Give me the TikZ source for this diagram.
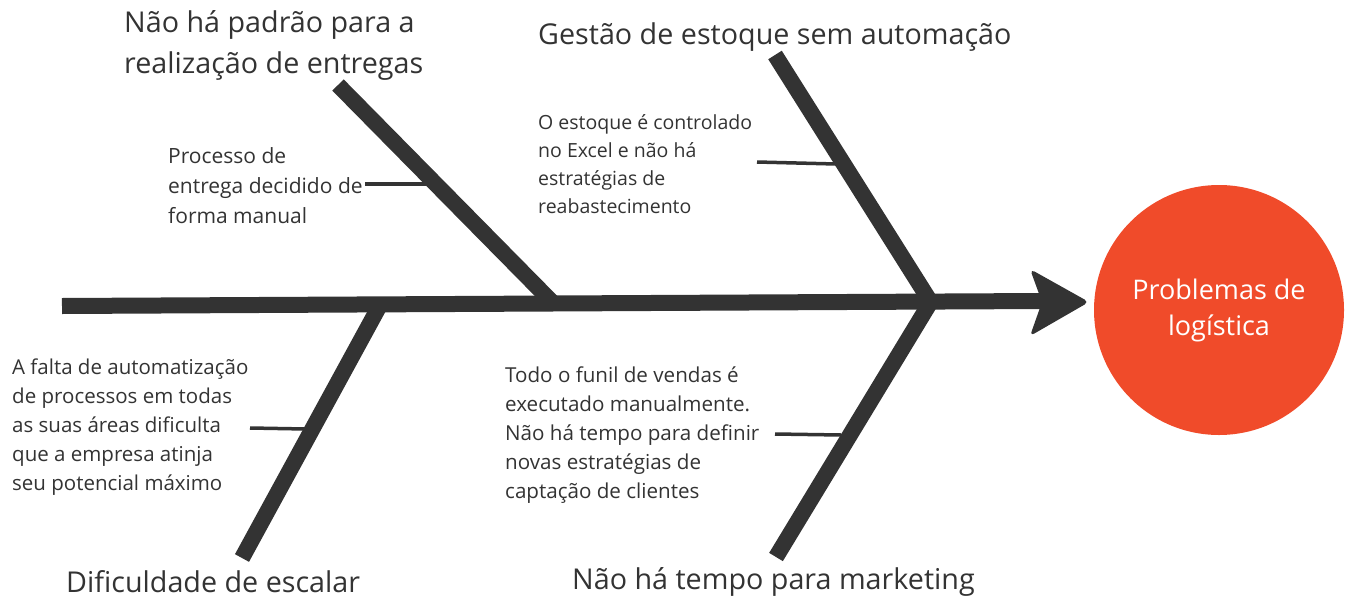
\documentclass[tikz,border=0pt]{standalone}
\usepackage{fontspec}
\setmainfont{Open Sans}
\definecolor{bone}{HTML}{333333}
\definecolor{txt}{HTML}{333333}
\definecolor{headred}{HTML}{F04B2A}
\begin{document}
\begin{tikzpicture}[x=1pt,y=-1pt,
  bonestyle/.style={draw=bone,line width=16pt},
  tickstyle/.style={draw=bone,line width=3.5pt},
  heading/.style={anchor=west,inner sep=0pt,text=txt,font=\fontsize{28.7}{41}\selectfont,align=left},
  cause/.style={anchor=west,inner sep=0pt,text=txt,align=left}]
\useasboundingbox (0,0) rectangle (1354,608);
% spine
\coordinate (s0) at (62,306);
\coordinate (s1) at (1042,301);
\coordinate (j1) at (553,303);
\coordinate (j2) at (930,301);
\coordinate (j3) at (380,305);
\coordinate (j4) at (930,303);
\draw[bonestyle] (s0) -- (s1);
\fill[bone,rounded corners=5pt] (1030,269) -- (1089,302) -- (1030,336) -- (1042,302) -- cycle;
% head
\node[circle,fill=headred,minimum size=250pt,inner sep=0pt,text=white,align=center,font=\fontsize{27}{36}\selectfont] (head) at (1219,310) {Problemas de\\log\'istica};
% bones
\coordinate (b1) at (338,85);
\coordinate (b2) at (775,55);
\coordinate (b3) at (242,558);
\coordinate (b4) at (776,557);
\draw[bonestyle] (b1) -- (j1);
\draw[bonestyle] (b2) -- (j2);
\draw[bonestyle] (j3) -- (b3);
\draw[bonestyle] (j4) -- (b4);
% ticks
\coordinate (t1a) at (365,184); \coordinate (t1b) at (428,184);
\coordinate (t2a) at (757,162); \coordinate (t2b) at (836,164);
\coordinate (t3a) at (250,428); \coordinate (t3b) at (306,429);
\coordinate (t4a) at (775,434); \coordinate (t4b) at (841,435);
\draw[tickstyle] (t1a) -- (t1b);
\draw[tickstyle] (t2a) -- (t2b);
\draw[tickstyle] (t3a) -- (t3b);
\draw[tickstyle] (t4a) -- (t4b);
% headings
\node[heading] (h1) at (124,45) {Não há padrão para a\\realização de entregas};
\node[heading] (h2) at (538,37) {Gestão de estoque sem automação};
\node[heading] (h3) at (66,582) {Dificuldade de escalar};
\node[heading] (h4) at (572,582) {Não há tempo para marketing};
% causes
\node[cause,font=\fontsize{21}{30}\selectfont] (c1) at (168,186) {Processo de\\entrega decidido de\\forma manual};
\node[cause,font=\fontsize{19.5}{28}\selectfont] (c2) at (538,164) {O estoque é controlado\\no Excel e não há\\estratégias de\\reabastecimento};
\node[cause,font=\fontsize{20.5}{29}\selectfont] (c3) at (12,427) {A falta de automatização\\de processos em todas\\as suas áreas dificulta\\que a empresa atinja\\seu potencial máximo};
\node[cause,font=\fontsize{20.6}{29}\selectfont] (c4) at (505,435) {Todo o funil de vendas é\\executado manualmente.\\Não há tempo para definir\\novas estratégias de\\captação de clientes};
\end{tikzpicture}
\end{document}
